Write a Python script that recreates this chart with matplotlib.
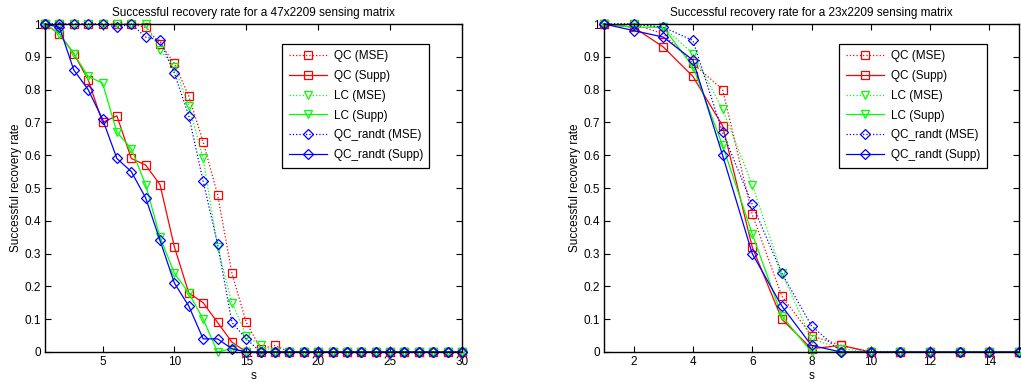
import matplotlib

matplotlib.use("Agg")
import matplotlib.pyplot as plt
import numpy as np

plt.rcParams["font.family"] = ["Liberation Sans", "DejaVu Sans"]

# sparsity levels
s_47 = np.arange(1, 31)
s_23 = np.arange(1, 16)

# 47x2209 sensing matrix
qc_mse_47 = [1, 1, 1, 1, 1, 1, 1, 0.99, 0.94, 0.88, 0.78, 0.64, 0.48, 0.24, 0.09,
             0.01, 0.02, 0, 0, 0, 0, 0, 0, 0, 0, 0, 0, 0, 0, 0]
qc_supp_47 = [1, 0.97, 0.91, 0.83, 0.70, 0.72, 0.59, 0.57, 0.51, 0.32, 0.18, 0.15, 0.09, 0.03, 0,
              0, 0, 0, 0, 0, 0, 0, 0, 0, 0, 0, 0, 0, 0, 0]
lc_mse_47 = [1, 1, 1, 1, 1, 1, 1, 1, 0.92, 0.87, 0.75, 0.59, 0.32, 0.15, 0.05,
             0.02, 0, 0, 0, 0, 0, 0, 0, 0, 0, 0, 0, 0, 0, 0]
lc_supp_47 = [1, 0.97, 0.91, 0.84, 0.82, 0.67, 0.62, 0.51, 0.35, 0.24, 0.18, 0.10, 0, 0.01, 0,
              0, 0, 0, 0, 0, 0, 0, 0, 0, 0, 0, 0, 0, 0, 0]
rt_mse_47 = [1, 1, 1, 1, 1, 0.99, 1, 0.96, 0.95, 0.85, 0.72, 0.52, 0.33, 0.09, 0.04,
             0, 0, 0, 0, 0, 0, 0, 0, 0, 0, 0, 0, 0, 0, 0]
rt_supp_47 = [1, 0.99, 0.86, 0.80, 0.71, 0.59, 0.55, 0.47, 0.34, 0.21, 0.14, 0.04, 0.04, 0.01, 0,
              0, 0, 0, 0, 0, 0, 0, 0, 0, 0, 0, 0, 0, 0, 0]

# 23x2209 sensing matrix
qc_mse_23 = [1, 1, 0.97, 0.88, 0.80, 0.42, 0.17, 0.05, 0.02, 0, 0, 0, 0, 0, 0]
qc_supp_23 = [1, 0.99, 0.93, 0.84, 0.69, 0.32, 0.10, 0.01, 0.02, 0, 0, 0, 0, 0, 0]
lc_mse_23 = [1, 1, 0.99, 0.91, 0.74, 0.51, 0.24, 0.04, 0.01, 0, 0, 0, 0, 0, 0]
lc_supp_23 = [1, 0.99, 0.99, 0.87, 0.63, 0.36, 0.11, 0, 0, 0, 0, 0, 0, 0, 0]
rt_mse_23 = [1, 1, 0.99, 0.95, 0.67, 0.45, 0.24, 0.08, 0, 0, 0, 0, 0, 0, 0]
rt_supp_23 = [1, 0.98, 0.96, 0.89, 0.60, 0.30, 0.14, 0.02, 0, 0, 0, 0, 0, 0, 0]

labels = ["QC (MSE)", "QC (Supp)", "LC (MSE)", "LC (Supp)", "QC_randt (MSE)", "QC_randt (Supp)"]
colors = ["#ff0000", "#ff0000", "#00ff00", "#00ff00", "#0000ff", "#0000ff"]
markers = ["s", "s", "v", "v", "D", "D"]
styles = [":", "-", ":", "-", ":", "-"]


def draw_panel(ax, s, series, title, xticks):
    for y, lab, c, m, ls in zip(series, labels, colors, markers, styles):
        ms = 5 if m == "D" else 6
        ax.plot(s, y, linestyle=ls, color=c, marker=m, markersize=ms,
                markerfacecolor="none", markeredgecolor=c, markeredgewidth=0.9,
                linewidth=0.9, label=lab, clip_on=False)
    ax.set_xlim(s[0], s[-1])
    ax.set_ylim(0, 1)
    ax.set_xticks(xticks)
    ax.set_yticks(np.round(np.arange(0, 1.01, 0.1), 1))
    ax.set_yticklabels(["0", "0.1", "0.2", "0.3", "0.4", "0.5", "0.6", "0.7", "0.8", "0.9", "1"])
    ax.tick_params(direction="in", top=True, right=True, labelsize=8.5, length=4, width=0.8, pad=3)
    for sp in ax.spines.values():
        sp.set_linewidth(1.0)
    ax.set_title(title, fontsize=8.5, pad=6)
    ax.set_xlabel("s", fontsize=8.5, labelpad=1)
    ax.set_ylabel("Successful recovery rate", fontsize=8.5, labelpad=2)
    leg = ax.legend(loc="upper right", bbox_to_anchor=(0.922, 0.94), fontsize=8.5,
                    frameon=True, fancybox=False, edgecolor="black", framealpha=1,
                    handlelength=3.2, handletextpad=0.6, borderpad=0.55, labelspacing=0.66,
                    borderaxespad=0)
    leg.get_frame().set_linewidth(0.9)


fig = plt.figure(figsize=(10.21, 3.83), dpi=100)
ax1 = fig.add_axes([45 / 1021, 1 - 352 / 383, 417 / 1021, 328 / 383])
ax2 = fig.add_axes([604 / 1021, 1 - 352 / 383, 415 / 1021, 328 / 383])

draw_panel(ax1, s_47, [qc_mse_47, qc_supp_47, lc_mse_47, lc_supp_47, rt_mse_47, rt_supp_47],
           "Successful recovery rate for a 47x2209 sensing matrix", [5, 10, 15, 20, 25, 30])
draw_panel(ax2, s_23, [qc_mse_23, qc_supp_23, lc_mse_23, lc_supp_23, rt_mse_23, rt_supp_23],
           "Successful recovery rate for a 23x2209 sensing matrix", [2, 4, 6, 8, 10, 12, 14])

fig.savefig("out.png", dpi=100)
